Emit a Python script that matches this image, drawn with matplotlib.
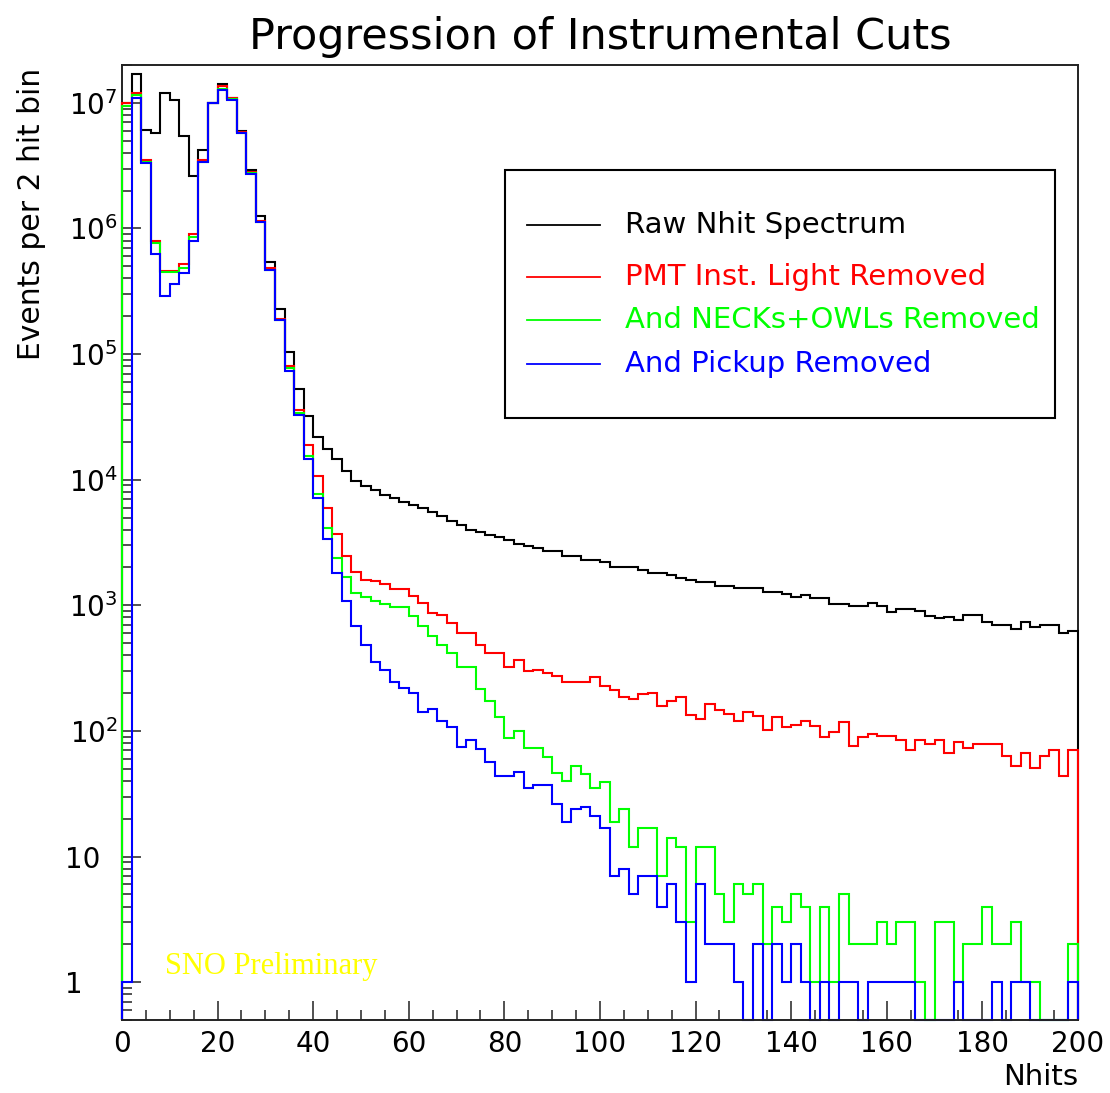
import numpy as np
import matplotlib
matplotlib.use('Agg')
import matplotlib.pyplot as plt
from matplotlib.patches import Rectangle
from matplotlib.ticker import FixedLocator, LogLocator, NullFormatter, MultipleLocator

plt.rcParams['font.family'] = 'DejaVu Sans'
plt.rcParams['mathtext.default'] = 'regular'

# Nhits histogram, 2-hit bins from 0 to 200
bin_edges = np.arange(0, 202, 2)

raw_counts = [1.0e7, 1.7e7, 6.1e6, 5.7e6, 1.2e7, 1.05e7, 5.4e6, 2.6e6, 4.2e6, 1.0e7,
              1.4e7, 1.1e7, 6.0e6, 2.9e6, 1.26e6, 5.4e5, 2.3e5, 1.03e5, 5.3e4, 3.2e4,
              2.2e4, 1.77e4, 1.47e4, 1.18e4, 9.7e3, 8.9e3, 8.3e3, 7.6e3, 7.2e3, 6.7e3,
              6.3e3, 6.0e3, 5.5e3, 5.1e3, 4.7e3, 4.35e3, 4.0e3, 3.8e3, 3.6e3, 3.5e3,
              3.3e3, 3.1e3, 2.95e3, 2.85e3, 2.7e3, 2.7e3, 2.45e3, 2.45e3, 2.3e3, 2.3e3,
              2.2e3, 2.0e3, 2.0e3, 2.0e3, 1.9e3, 1.82e3, 1.82e3, 1.74e3, 1.66e3, 1.59e3,
              1.53e3, 1.53e3, 1.42e3, 1.42e3, 1.38e3, 1.38e3, 1.38e3, 1.27e3, 1.27e3, 1.22e3,
              1.17e3, 1.2e3, 1.14e3, 1.14e3, 1.03e3, 1.03e3, 988, 988, 1040, 988,
              890, 935, 935, 900, 822, 790, 812, 765, 830, 830,
              740, 700, 700, 653, 730, 676, 700, 700, 600, 625]

pmt_counts = [1.0e7, 1.2e7, 3.5e6, 7.9e5, 4.6e5, 4.6e5, 5.2e5, 9.0e5, 3.5e6, 1.0e7,
              1.35e7, 1.1e7, 5.9e6, 2.8e6, 1.15e6, 4.8e5, 1.9e5, 8.0e4, 3.6e4, 1.9e4,
              1.07e4, 5.9e3, 3.7e3, 2.45e3, 1.83e3, 1.6e3, 1.55e3, 1.47e3, 1.36e3, 1.36e3,
              1.18e3, 1.04e3, 875, 840, 720, 605, 605, 480, 420, 420,
              325, 365, 298, 308, 288, 275, 245, 245, 245, 267,
              226, 210, 185, 178, 195, 200, 159, 174, 187, 134,
              125, 165, 148, 136, 120, 141, 132, 102, 130, 107,
              112, 120, 110, 89, 98, 117, 76, 89, 95, 91,
              91, 84, 70, 85, 78, 84, 67, 81, 73, 78,
              78, 78, 63, 53, 67, 51, 63, 71, 44, 70]

neck_counts = [9.5e6, 1.15e7, 3.4e6, 7.7e5, 4.5e5, 4.5e5, 4.8e5, 8.6e5, 3.4e6, 1.0e7,
               1.3e7, 1.07e7, 5.8e6, 2.75e6, 1.13e6, 4.7e5, 1.87e5, 7.7e4, 3.4e4, 1.55e4,
               7.7e3, 4.1e3, 2.4e3, 1.68e3, 1.25e3, 1.17e3, 1.08e3, 1.03e3, 970, 970,
               820, 690, 575, 480, 420, 320, 320, 215, 174, 128,
               88, 100, 73, 73, 62, 46, 40, 53, 45, 35,
               39, 19, 24, 12, 17, 17, 7, 14, 12, 3,
               12, 12, 5, 3, 6, 5, 6, 2, 4, 3,
               5, 4, 1, 4, 1, 5, 2, 2, 2, 3,
               2, 3, 3, 1, 0, 3, 3, 1, 2, 2,
               4, 2, 2, 3, 1, 1, 0, 0, 0, 2]

pickup_counts = [1, 1.1e7, 3.3e6, 6.3e5, 2.9e5, 3.6e5, 4.4e5, 8.0e5, 3.4e6, 1.0e7,
                 1.26e7, 1.05e7, 5.7e6, 2.7e6, 1.12e6, 4.7e5, 1.86e5, 7.3e4, 3.3e4, 1.47e4,
                 7.2e3, 3.4e3, 1.8e3, 1.08e3, 690, 480, 355, 308, 245, 220,
                 202, 142, 150, 120, 107, 75, 84, 72, 57, 44,
                 44, 47, 35, 37, 37, 26, 19, 24, 25, 21,
                 17, 7, 8, 5, 7, 7, 4, 6, 3, 1,
                 6, 2, 2, 2, 1, 0, 2, 0, 2, 1,
                 2, 1, 0, 1, 0, 1, 1, 0, 1, 1,
                 1, 1, 1, 0, 0, 0, 0, 1, 0, 0,
                 0, 1, 0, 1, 1, 0, 0, 0, 0, 1]

series_labels = ['Raw Nhit Spectrum', 'PMT Inst. Light Removed',
                 'And NECKs+OWLs Removed', 'And Pickup Removed']
series_colors = ['#000000', '#ff0000', '#00ff00', '#0000ff']

y_min, y_max = 0.5, 2e7

fig = plt.figure(figsize=(11.1, 10.93), dpi=100)
ax = fig.add_axes([0.10991, 0.06679, 0.86126, 0.87374])

all_counts = [raw_counts, pmt_counts, neck_counts, pickup_counts]
for counts, color in zip(all_counts, series_colors):
    vals = np.asarray(counts, dtype=float)
    # empty bins drop to the bottom of the frame, like ROOT does
    vals = np.where(vals > 0, vals, y_min)
    ax.stairs(vals, bin_edges, baseline=y_min, color=color, lw=1.5,
              zorder=3, clip_on=False)

ax.set_yscale('log')
ax.set_xlim(0, 200)
ax.set_ylim(y_min, y_max)

# ticks: inward, only on left and bottom
ax.xaxis.set_major_locator(MultipleLocator(20))
ax.xaxis.set_minor_locator(MultipleLocator(5))
ax.yaxis.set_major_locator(FixedLocator([1, 10, 1e2, 1e3, 1e4, 1e5, 1e6, 1e7]))
ax.yaxis.set_minor_locator(LogLocator(base=10, subs=np.arange(2, 10)))
ax.yaxis.set_minor_formatter(NullFormatter())
ax.set_yticklabels(['1    ', '10  ', '$10^{2}$', '$10^{3}$', '$10^{4}$',
                    '$10^{5}$', '$10^{6}$', '$10^{7}$'])
ax.tick_params(which='both', direction='in', top=False, right=False,
               labelsize=20, width=1.1, color='#222222')
ax.tick_params(which='major', length=14)
ax.tick_params(which='minor', length=7)
ax.tick_params(axis='x', pad=7)
ax.tick_params(axis='y', pad=3)

for side, spine in ax.spines.items():
    spine.set_linewidth(1.4)
    spine.set_color('#222222')
ax.spines['bottom'].set_zorder(4)

ax.set_xlabel('Nhits', fontsize=21)
ax.xaxis.set_label_coords(1.0, -0.045)
ax.xaxis.label.set_horizontalalignment('right')

fig.text(32 / 1110, 1 - 68 / 1093, 'Events per 2 hit bin', rotation=90,
         ha='center', va='top', fontsize=21.4)
fig.text(600 / 1110, 1 - 37 / 1093, 'Progression of Instrumental Cuts',
         ha='center', va='center', fontsize=31)

ax.text(9, 1.34, 'SNO Preliminary', color='#ffff00', fontsize=22,
        family='Liberation Serif', ha='left', va='center', zorder=5)

# legend box, drawn by hand to match the ROOT TLegend layout
ax.add_patch(Rectangle((0.4006, 0.630), 0.5754, 0.260, transform=ax.transAxes,
                       facecolor='white', edgecolor='black', lw=1.5, zorder=6))
entry_y = [0.8325, 0.778, 0.733, 0.687]
for lab, color, yy in zip(series_labels, series_colors, entry_y):
    ax.plot([0.4236, 0.500], [yy, yy], color=color, lw=1.3,
            transform=ax.transAxes, zorder=7)
    ax.text(0.526, yy, lab, color=color, fontsize=21, ha='left', va='center',
            transform=ax.transAxes, zorder=7)

fig.savefig('out.png', dpi=100, facecolor='white')
